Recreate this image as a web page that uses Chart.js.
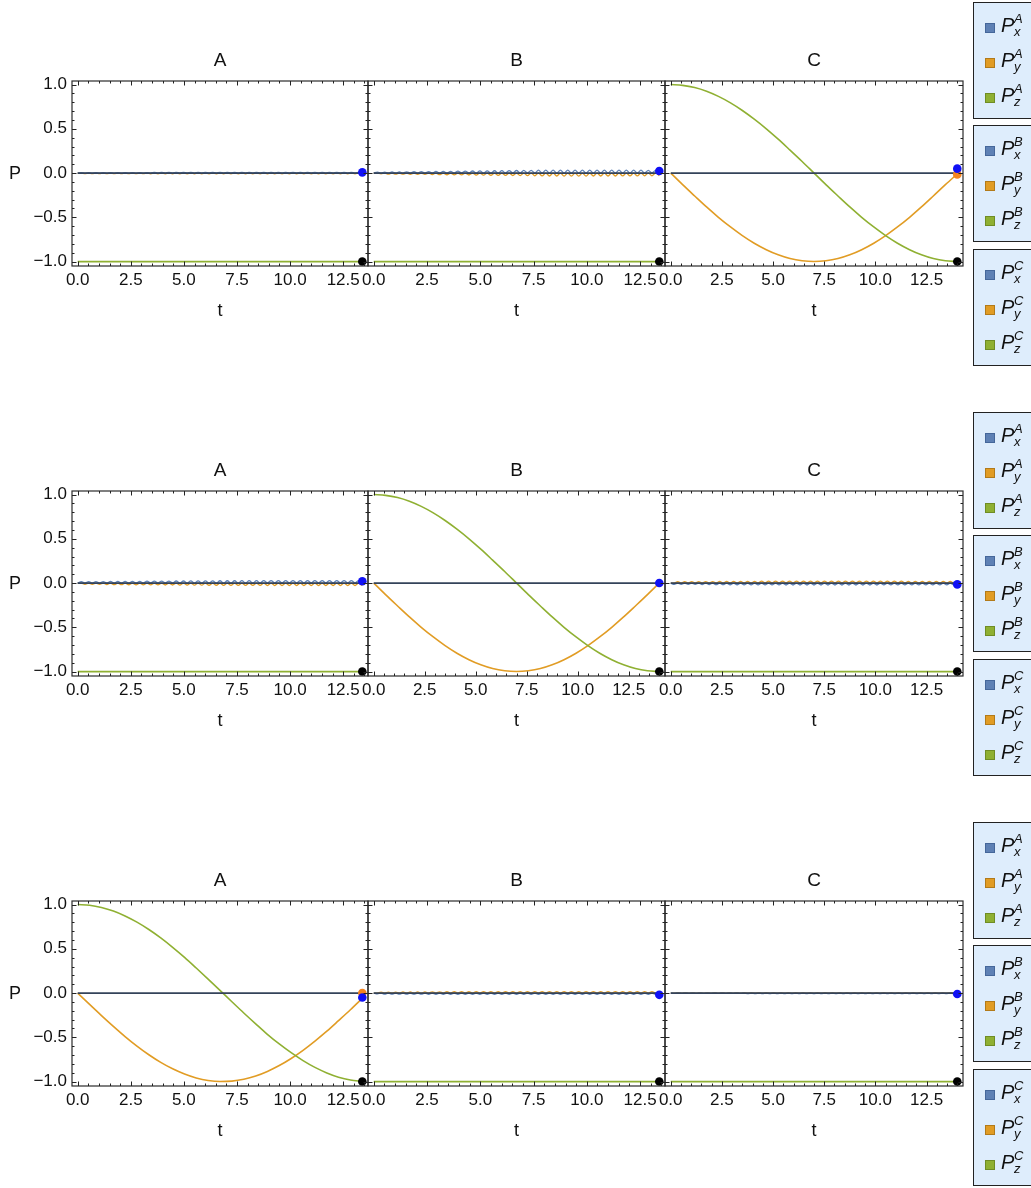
<!DOCTYPE html>
<html>
<head>
<meta charset="utf-8">
<script src="https://cdn.jsdelivr.net/npm/chart.js@4/dist/chart.umd.min.js"></script>
<style>
  html, body { margin: 0; padding: 0; background: #fff; }
  body { width: 1031px; height: 1188px; position: relative; overflow: hidden;
         font-family: "Liberation Sans", Arial, Helvetica, sans-serif; color: #111; }
  canvas { position: absolute; }
  .ptitle { position: absolute; font-size: 19px; line-height: 22px; text-align: center; }
  .ylab { position: absolute; font-size: 18px; line-height: 20px; }
  .lgbox { position: absolute; left: 973px; width: 70px; box-sizing: border-box;
           background: #deedfc; border: 1.6px solid #222; }
  .sw { position: absolute; left: 985px; width: 10px; height: 10px; box-sizing: border-box; border: 1px solid; }
  .lp { position: absolute; font-style: italic; line-height: 1; white-space: nowrap; }
</style>
</head>
<body>
<script>
// ---------- data ----------
const panelTitles = ['A', 'B', 'C'];
const xMajorTicks = [0, 2.5, 5, 7.5, 10, 12.5];
const yMajorTicks = [-1, -0.5, 0, 0.5, 1];

// last simulated time in each panel [row][col]
const endTimes = [
  [13.4, 13.4, 14.0],
  [13.4, 14.0, 14.0],
  [13.4, 13.4, 14.0]
];

// final-state markers [row][col]
const endBlue = [
  [0.008, 0.023, 0.05],
  [0.02, 0.0, -0.015],
  [-0.05, -0.02, -0.01]
];
const endOrange = [
  [null, null, -0.015],
  [null, null, null],
  [0.0, null, null]
];
const endBlack = [
  [-1, -1, -1],
  [-1, -1, -1],
  [-1, -1, -1]
];

// rotating panels: sample times and components
const rotTimes14 = [0, 0.58, 1.17, 1.75, 2.33, 2.92, 3.5, 4.08, 4.67, 5.25, 5.83, 6.42, 7.0,
                    7.58, 8.17, 8.75, 9.33, 9.92, 10.5, 11.08, 11.67, 12.25, 12.83, 13.42, 14.0];
const rotTimes134 = [0, 0.56, 1.12, 1.68, 2.23, 2.79, 3.35, 3.91, 4.47, 5.03, 5.58, 6.14, 6.7,
                     7.26, 7.82, 8.38, 8.93, 9.49, 10.05, 10.61, 11.17, 11.73, 12.28, 12.84, 13.4];
const r1cPz = [1.000, 0.991, 0.966, 0.924, 0.866, 0.793, 0.707, 0.609, 0.500, 0.383, 0.259, 0.131, 0.000,
               -0.131, -0.259, -0.383, -0.500, -0.609, -0.707, -0.793, -0.866, -0.924, -0.966, -0.991, -1.000];
const r1cPy = [0.000, -0.131, -0.259, -0.383, -0.500, -0.609, -0.707, -0.793, -0.866, -0.924, -0.966, -0.991, -1.000,
               -0.991, -0.966, -0.924, -0.866, -0.793, -0.707, -0.609, -0.500, -0.383, -0.259, -0.131, -0.010];
const r2bPz = [1.000, 0.991, 0.966, 0.924, 0.866, 0.793, 0.707, 0.609, 0.500, 0.383, 0.259, 0.131, 0.000,
               -0.131, -0.259, -0.383, -0.500, -0.609, -0.707, -0.793, -0.866, -0.924, -0.966, -0.991, -1.000];
const r2bPy = [0.000, -0.131, -0.259, -0.383, -0.500, -0.609, -0.707, -0.793, -0.866, -0.924, -0.966, -0.991, -1.000,
               -0.991, -0.966, -0.924, -0.866, -0.793, -0.707, -0.609, -0.500, -0.383, -0.259, -0.131, 0.000];
const r3aPz = [1.000, 0.992, 0.967, 0.927, 0.871, 0.801, 0.718, 0.623, 0.517, 0.403, 0.283, 0.158, 0.030,
               -0.098, -0.225, -0.348, -0.466, -0.575, -0.674, -0.763, -0.840, -0.902, -0.950, -0.982, -0.998];
const r3aPy = [0.000, -0.128, -0.254, -0.376, -0.491, -0.599, -0.697, -0.783, -0.856, -0.915, -0.959, -0.988, -1.000,
               -0.995, -0.974, -0.937, -0.885, -0.819, -0.739, -0.647, -0.543, -0.431, -0.312, -0.189, -0.060];

// idle panels: fast small oscillation of Px and Py (half-period samples)
const r1aPx = [
  0,0.006,0,0.006,0,0.006,0,0.006,0,0.006,0,0.006,0,0.006,0,0.006,0,0.006,0,0.006,
  0,0.008,0,0.008,0,0.008,0,0.008,0,0.008,0,0.008,0,0.008,0,0.008,0,0.008,0,0.008,
  0,0.008,0,0.008,0,0.008,0,0.008,0,0.008,0,0.008,0,0.008,0,0.008,0,0.008,0,0.008,
  0,0.008,0,0.008,0,0.008,0,0.008,0,0.008,0,0.008,0,0.008,0,0.008,0,0.008,0];
const r1aPy = [
  0,0,-0.006,0,-0.006,0,-0.006,0,-0.006,0,-0.006,0,-0.006,0,-0.006,0,-0.006,0,-0.006,0,
  -0.008,0,-0.008,0,-0.008,0,-0.008,0,-0.008,0,-0.008,0,-0.008,0,-0.008,0,-0.008,0,-0.008,0,
  -0.008,0,-0.008,0,-0.008,0,-0.008,0,-0.008,0,-0.008,0,-0.008,0,-0.008,0,-0.008,0,-0.008,0,
  -0.008,0,-0.008,0,-0.008,0,-0.008,0,-0.008,0,-0.008,0,-0.008,0,-0.008,0,-0.008,0,-0.008];

const r1bPx = [
  0,0.010,0,0.011,0,0.012,0,0.013,0,0.014,0,0.015,0,0.016,0,0.017,0,0.018,0,0.019,
  0,0.020,0,0.021,0,0.022,0,0.023,0,0.024,0,0.025,0,0.026,0,0.027,0,0.028,0,0.029,
  0,0.030,0,0.031,0,0.032,0,0.033,0,0.033,0,0.034,0,0.034,0,0.034,0,0.034,0,0.034,
  0,0.033,0,0.033,0,0.033,0,0.033,0,0.032,0,0.032,0,0.032,0,0.031,0,0.031,0];
const r1bPy = [
  0,0,-0.010,0,-0.011,0,-0.012,0,-0.013,0,-0.014,0,-0.015,0,-0.016,0,-0.017,0,-0.018,0,
  -0.019,0,-0.020,0,-0.021,0,-0.022,0,-0.023,0,-0.024,0,-0.025,0,-0.026,0,-0.027,0,-0.028,0,
  -0.029,0,-0.030,0,-0.031,0,-0.032,0,-0.033,0,-0.033,0,-0.034,0,-0.034,0,-0.034,0,-0.034,0,
  -0.033,0,-0.033,0,-0.033,0,-0.033,0,-0.032,0,-0.032,0,-0.032,0,-0.031,0,-0.031,0,-0.030];

const r2aPx = [
  0,0.015,0,0.016,0,0.016,0,0.017,0,0.018,0,0.018,0,0.019,0,0.020,0,0.020,0,0.021,
  0,0.021,0,0.022,0,0.022,0,0.023,0,0.023,0,0.024,0,0.024,0,0.025,0,0.025,0,0.026,
  0,0.026,0,0.026,0,0.027,0,0.027,0,0.027,0,0.028,0,0.028,0,0.028,0,0.028,0,0.028,
  0,0.028,0,0.028,0,0.028,0,0.028,0,0.028,0,0.028,0,0.028,0,0.028,0,0.028,0];
const r2aPy = [
  0,0,-0.015,0,-0.016,0,-0.016,0,-0.017,0,-0.018,0,-0.018,0,-0.019,0,-0.020,0,-0.020,0,
  -0.021,0,-0.021,0,-0.022,0,-0.022,0,-0.023,0,-0.023,0,-0.024,0,-0.024,0,-0.025,0,-0.025,0,
  -0.026,0,-0.026,0,-0.026,0,-0.027,0,-0.027,0,-0.027,0,-0.028,0,-0.028,0,-0.028,0,-0.028,0,
  -0.028,0,-0.028,0,-0.028,0,-0.028,0,-0.028,0,-0.028,0,-0.028,0,-0.028,0,-0.028,0,-0.028];

const r2cPx = [
  0,-0.015,0,-0.015,0,-0.016,0,-0.016,0,-0.017,0,-0.017,0,-0.018,0,-0.018,0,-0.019,0,-0.019,
  0,-0.020,0,-0.020,0,-0.020,0,-0.021,0,-0.021,0,-0.021,0,-0.022,0,-0.022,0,-0.022,0,-0.022,
  0,-0.022,0,-0.022,0,-0.022,0,-0.022,0,-0.022,0,-0.022,0,-0.022,0,-0.022,0,-0.022,0,-0.022,
  0,-0.021,0,-0.021,0,-0.021,0,-0.021,0,-0.020,0,-0.020,0,-0.020,0,-0.020,0,-0.020,0,-0.020,
  0,-0.020,0];
const r2cPy = [
  0,0,0.015,0,0.015,0,0.016,0,0.016,0,0.017,0,0.017,0,0.018,0,0.018,0,0.019,0,
  0.019,0,0.020,0,0.020,0,0.021,0,0.021,0,0.021,0,0.022,0,0.022,0,0.022,0,0.022,0,
  0.022,0,0.022,0,0.022,0,0.022,0,0.022,0,0.022,0,0.022,0,0.022,0,0.022,0,0.022,0,
  0.021,0,0.021,0,0.021,0,0.021,0,0.020,0,0.020,0,0.020,0,0.020,0,0.020,0,0.020,0,
  0.020,0,0.020];

const r3bPx = [
  0,-0.010,0,-0.011,0,-0.011,0,-0.012,0,-0.012,0,-0.013,0,-0.013,0,-0.014,0,-0.014,0,-0.015,
  0,-0.015,0,-0.015,0,-0.015,0,-0.015,0,-0.015,0,-0.015,0,-0.015,0,-0.015,0,-0.015,0,-0.015,
  0,-0.016,0,-0.016,0,-0.016,0,-0.016,0,-0.016,0,-0.016,0,-0.016,0,-0.016,0,-0.016,0,-0.016,
  0,-0.016,0,-0.016,0,-0.016,0,-0.016,0,-0.016,0,-0.016,0,-0.016,0,-0.016,0,-0.016,0];
const r3bPy = [
  0,0,0.010,0,0.011,0,0.011,0,0.012,0,0.012,0,0.013,0,0.013,0,0.014,0,0.014,0,
  0.015,0,0.015,0,0.015,0,0.015,0,0.015,0,0.015,0,0.015,0,0.015,0,0.015,0,0.015,0,
  0.016,0,0.016,0,0.016,0,0.016,0,0.016,0,0.016,0,0.016,0,0.016,0,0.016,0,0.016,0,
  0.016,0,0.016,0,0.016,0,0.016,0,0.016,0,0.016,0,0.016,0,0.016,0,0.016,0,0.016];

const r3cPx = [
  0,-0.004,0,-0.004,0,-0.004,0,-0.004,0,-0.004,0,-0.004,0,-0.004,0,-0.004,0,-0.004,0,-0.004,
  0,-0.005,0,-0.005,0,-0.005,0,-0.005,0,-0.005,0,-0.005,0,-0.005,0,-0.005,0,-0.005,0,-0.005,
  0,-0.005,0,-0.005,0,-0.005,0,-0.005,0,-0.005,0,-0.005,0,-0.005,0,-0.005,0,-0.005,0,-0.005,
  0,-0.005,0,-0.005,0,-0.005,0,-0.005,0,-0.005,0,-0.005,0,-0.005,0,-0.005,0,-0.005,0];
const r3cPy = [
  0,0,0.004,0,0.004,0,0.004,0,0.004,0,0.004,0,0.004,0,0.004,0,0.004,0,0.004,0,
  0.005,0,0.005,0,0.005,0,0.005,0,0.005,0,0.005,0,0.005,0,0.005,0,0.005,0,0.005,0,
  0.005,0,0.005,0,0.005,0,0.005,0,0.005,0,0.005,0,0.005,0,0.005,0,0.005,0,0.005,0,
  0.005,0,0.005,0,0.005,0,0.005,0,0.005,0,0.005,0,0.005,0,0.005,0,0.005,0,0.005];

// which series each panel shows
const panelSeries = [
  [{ px: r1aPx, py: r1aPy }, { px: r1bPx, py: r1bPy }, { rotT: rotTimes14, py: r1cPy, pz: r1cPz }],
  [{ px: r2aPx, py: r2aPy }, { rotT: rotTimes14, py: r2bPy, pz: r2bPz }, { px: r2cPx, py: r2cPy }],
  [{ rotT: rotTimes134, py: r3aPy, pz: r3aPz }, { px: r3bPx, py: r3bPy }, { px: r3cPx, py: r3cPy }]
];

// legend
const legendGroups = ['A', 'B', 'C'];
const legendComponents = ['x', 'y', 'z'];
const componentColors = ['#5e81b5', '#e19c24', '#8fb032'];
const componentEdges = ['#45679a', '#b27a19', '#6f8c24'];

// ---------- layout ----------
const FONT = "'Liberation Sans', Arial, Helvetica, sans-serif";
const G = {
  frameLeft: [72, 368, 665], frameRight: [368, 665, 963],
  frameTop: 81, frameBottom: 266, rowStep: 410,
  canvasH: 340, xAxisH: 56, yAxisW: 60,
  legendTops: [2, 125, 249], legendH: 117, itemOffsets: [26, 61, 96]
};
Chart.defaults.font.family = FONT;
Chart.defaults.color = '#111';

const fmt = v => (v < 0 ? '\u2212' : '') + Math.abs(v).toFixed(1);

// frame with inward major/minor ticks on all four sides
const frameTicks = {
  id: 'frameTicks',
  afterDatasetsDraw(chart) {
    const { ctx, chartArea: a, scales: { x, y } } = chart;
    ctx.save();
    ctx.strokeStyle = '#2b2b2b';
    ctx.lineWidth = 1.2;
    ctx.strokeRect(a.left, a.top, a.right - a.left, a.bottom - a.top);
    ctx.lineWidth = 1;
    ctx.strokeStyle = '#222';
    ctx.beginPath();
    for (let i = Math.ceil(x.min / 0.5); i * 0.5 <= x.max; i++) {
      const v = i * 0.5;
      const px = Math.round(x.getPixelForValue(v)) + 0.5;
      const len = (i % 5 === 0) ? 4.5 : 2.5;
      ctx.moveTo(px, a.bottom); ctx.lineTo(px, a.bottom - len);
      ctx.moveTo(px, a.top); ctx.lineTo(px, a.top + len);
    }
    for (let i = Math.ceil(y.min / 0.1 - 1e-9); i * 0.1 <= y.max + 1e-9; i++) {
      const v = i * 0.1;
      const py = Math.round(y.getPixelForValue(v)) + 0.5;
      const len = (i % 5 === 0) ? 4.5 : 2.5;
      ctx.moveTo(a.left, py); ctx.lineTo(a.left + len, py);
      ctx.moveTo(a.right, py); ctx.lineTo(a.right - len, py);
    }
    ctx.stroke();
    ctx.restore();
  }
};

const pts = (times, vals) => vals.map((v, i) => ({ x: times[i], y: v }));
const grid = (T, n) => Array.from({ length: n }, (_, k) => k * T / (n - 1));

function lineDs(data, color, width, order) {
  return { data, borderColor: color, borderWidth: width, pointRadius: 0,
           cubicInterpolationMode: 'monotone', fill: false, order };
}
function dotDs(T, v, color, order) {
  return { data: [{ x: T, y: v }], showLine: false, pointRadius: 4.3, pointBorderWidth: 0,
           pointBackgroundColor: color, borderColor: color, clip: false, order };
}

function makePanel(row, col) {
  const T = endTimes[row][col];
  const s = panelSeries[row][col];
  const fl = G.frameLeft[col], fr = G.frameRight[col];
  const yW = col === 0 ? G.yAxisW : 0;
  const padL = col === 0 ? 12 : 40;
  const padR = 20;
  const cLeft = fl - yW - padL;
  const cW = fr - cLeft + padR;
  const top = row * G.rowStep;

  const cv = document.createElement('canvas');
  cv.width = cW; cv.height = G.canvasH;
  cv.style.left = cLeft + 'px'; cv.style.top = top + 'px';
  cv.style.width = cW + 'px'; cv.style.height = G.canvasH + 'px';
  document.body.appendChild(cv);

  const ds = [];
  ds.push(dotDs(T, endBlack[row][col], '#000', 0));
  ds.push(dotDs(T, endBlue[row][col], '#1010f5', 1));
  if (endOrange[row][col] !== null) ds.push(dotDs(T, endOrange[row][col], '#f5841f', 2));
  ds.push(lineDs(pts([0, T], [0, 0]), '#34435a', 1.8, 3));
  if (s.rotT) {
    ds.push(lineDs(pts(s.rotT, s.pz), componentColors[2], 1.6, 4));
    ds.push(lineDs(pts(s.rotT, s.py), componentColors[1], 1.6, 5));
  } else {
    ds.push(lineDs(pts([0, T], [-1, -1]), componentColors[2], 1.8, 4));
    ds.push(lineDs(pts(grid(T, s.px.length), s.px), componentColors[0], 1.3, 5));
    ds.push(lineDs(pts(grid(T, s.py.length), s.py), componentColors[1], 1.3, 6));
  }

  new Chart(cv, {
    type: 'line',
    data: { datasets: ds },
    options: {
      responsive: false, animation: false, devicePixelRatio: 1, events: [],
      layout: { padding: { left: padL, right: padR, top: G.frameTop,
                           bottom: G.canvasH - G.frameBottom - G.xAxisH } },
      plugins: { legend: { display: false }, tooltip: { enabled: false }, title: { display: false } },
      scales: {
        x: {
          type: 'linear', min: -0.02 * T, max: 1.02 * T,
          afterBuildTicks: sc => { sc.ticks = xMajorTicks.map(v => ({ value: v })); },
          afterFit: sc => { sc.height = G.xAxisH; },
          grid: { display: false, drawTicks: false }, border: { display: false },
          ticks: { autoSkip: false, maxRotation: 0, minRotation: 0, padding: 4,
                   font: { size: 17 }, color: '#111', callback: v => fmt(v) },
          title: { display: true, text: 't', font: { size: 18 }, color: '#111',
                   padding: { top: 0, bottom: 0 } }
        },
        y: {
          type: 'linear', min: -1.05, max: 1.04, display: col === 0,
          afterBuildTicks: sc => { sc.ticks = yMajorTicks.map(v => ({ value: v })); },
          afterFit: sc => { sc.width = yW; },
          grid: { display: false, drawTicks: false }, border: { display: false },
          ticks: { autoSkip: false, padding: 5, font: { size: 17 }, color: '#111',
                   callback: v => fmt(v) }
        }
      }
    },
    plugins: [frameTicks]
  });

  const t = document.createElement('div');
  t.className = 'ptitle';
  t.textContent = panelTitles[col];
  t.style.left = fl + 'px'; t.style.width = (fr - fl) + 'px';
  t.style.top = (top + 49) + 'px';
  document.body.appendChild(t);
}

function addText(cls, text, left, top, size) {
  const el = document.createElement('span');
  el.className = cls; el.textContent = text;
  el.style.left = left + 'px'; el.style.top = top + 'px';
  if (size) el.style.fontSize = size + 'px';
  document.body.appendChild(el);
}

for (let r = 0; r < 3; r++) {
  const top = r * G.rowStep;
  for (let c = 0; c < 3; c++) makePanel(r, c);

  const p = document.createElement('div');
  p.className = 'ylab'; p.textContent = 'P';
  p.style.left = '9px'; p.style.top = (top + 163) + 'px';
  document.body.appendChild(p);

  legendGroups.forEach((g, gi) => {
    const bt = top + G.legendTops[gi];
    const box = document.createElement('div');
    box.className = 'lgbox';
    box.style.top = bt + 'px'; box.style.height = G.legendH + 'px';
    document.body.appendChild(box);
    legendComponents.forEach((comp, ci) => {
      const cy = bt + G.itemOffsets[ci];
      const sw = document.createElement('div');
      sw.className = 'sw';
      sw.style.top = (cy - 5) + 'px';
      sw.style.background = componentColors[ci];
      sw.style.borderColor = componentEdges[ci];
      document.body.appendChild(sw);
      addText('lp', 'P', 1001, cy - 13.5, 20);
      addText('lp', g, 1014, cy - 16, 13);
      addText('lp', comp, 1014, cy - 3, 13);
    });
  });
}
</script>
</body>
</html>
